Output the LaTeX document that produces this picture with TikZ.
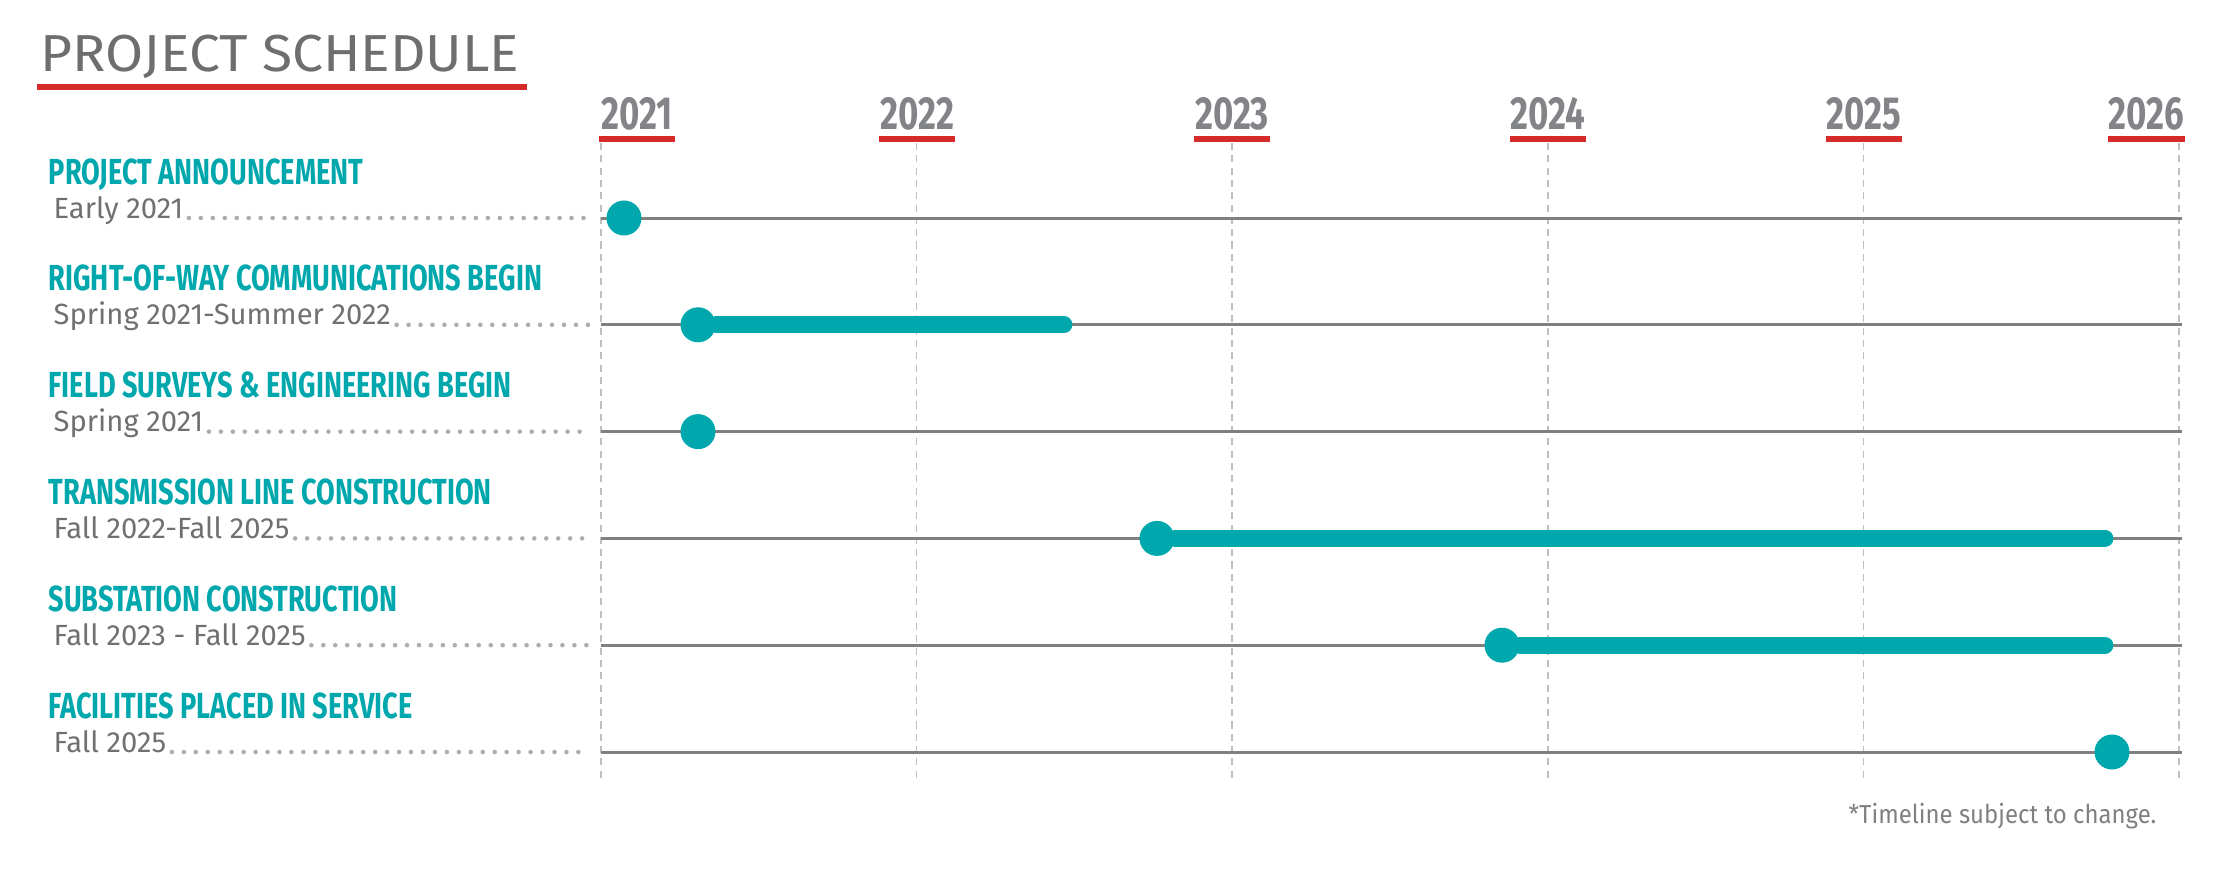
\documentclass[tikz,border=0pt]{standalone}
\usepackage{fontspec}
\setmainfont{Fira Sans}
\newfontfamily\headfont[FakeStretch=1.06]{Fira Sans}
\newfontfamily\condfont[FakeStretch=0.75]{Fira Sans}
\newfontfamily\datefont[FakeStretch=1.0]{Fira Sans}
\newfontfamily\notefont[FakeStretch=0.92]{Fira Sans}
\usepackage{xcolor}
\usetikzlibrary{positioning}
\definecolor{schedteal}{HTML}{00A8AD}
\definecolor{schedred}{HTML}{D62A2A}
\definecolor{titlegray}{HTML}{6E6E6E}
\definecolor{yeargray}{HTML}{828487}
\definecolor{dategray}{HTML}{707070}
\definecolor{linegray}{HTML}{808080}

\begin{document}
\begin{tikzpicture}[x=0.01cm,y=-0.01cm,
   heading/.style={font=\headfont\fontsize{14.8pt}{16pt}\selectfont,text=titlegray,
                   inner sep=0pt,anchor=base west},
   yearlbl/.style={font=\condfont\bfseries\fontsize{13.2pt}{14pt}\selectfont,
                   text=yeargray,inner sep=0pt,minimum width=0.75cm},
   task/.style={font=\condfont\bfseries\fontsize{10.3pt}{12pt}\selectfont,
                text=schedteal,inner sep=0pt,anchor=base west},
   when/.style={font=\datefont\fontsize{8.3pt}{10pt}\selectfont,text=dategray,
                inner sep=0pt,anchor=base west},
   redbar/.style={draw=schedred,line width=1.7pt},
   grid/.style={draw=black!25,line width=0.45pt,dash pattern=on 2pt off 1.5pt},
   row/.style={draw=linegray,line width=0.85pt},
   leader/.style={draw=black!32,line width=1.3pt,line cap=round,
                  dash pattern=on 0pt off 3.4pt},
   dot/.style={circle,fill=schedteal,inner sep=0pt,minimum size=0.35cm},
   span/.style={draw=schedteal,line width=4.8pt,line cap=round}]
  \useasboundingbox (0,0) rectangle (2238,878);

  % title
  \node[heading] (ttl) at (40,71) {PROJECT SCHEDULE};
  \draw[redbar] ([xshift=-0.3mm,yshift=-1.6mm]ttl.base west) -- ([xshift=0.7mm,yshift=-1.6mm]ttl.base east);

  % years
  \node[yearlbl,anchor=base west] (y21) at (599,129) {2021};
  \node[yearlbl,anchor=base] (y22) at (917,129) {2022};
  \node[yearlbl,anchor=base] (y23) at (1232,129) {2023};
  \node[yearlbl,anchor=base] (y24) at (1548,129) {2024};
  \node[yearlbl,anchor=base] (y25) at (1864,129) {2025};
  \node[yearlbl,anchor=base east] (y26) at (2185,129) {2026};
  \draw[redbar] ([yshift=-1mm]y21.base west) -- ([yshift=-1mm]y21.base east);
  \draw[redbar] ([yshift=-1mm]y22.base west) -- ([yshift=-1mm]y22.base east);
  \draw[redbar] ([yshift=-1mm]y23.base west) -- ([yshift=-1mm]y23.base east);
  \draw[redbar] ([yshift=-1mm]y24.base west) -- ([yshift=-1mm]y24.base east);
  \draw[redbar] ([yshift=-1mm]y25.base west) -- ([yshift=-1mm]y25.base east);
  \draw[redbar] ([yshift=-1mm]y26.base west) -- ([yshift=-1mm]y26.base east);

  \draw[grid] (601,143) -- (601,782);
  \draw[grid] (916.6,143) -- (916.6,782);
  \draw[grid] (1232.2,143) -- (1232.2,782);
  \draw[grid] (1547.8,143) -- (1547.8,782);
  \draw[grid] (1863.4,143) -- (1863.4,782);
  \draw[grid] (2179,143) -- (2179,782);

  % rows
  \coordinate (r1) at (601,218);
  \coordinate (r2) at (601,324.8);
  \coordinate (r3) at (601,431.6);
  \coordinate (r4) at (601,538.4);
  \coordinate (r5) at (601,645.2);
  \coordinate (r6) at (601,752);
  \draw[row] (r1) -- ++(1581,0);
  \draw[row] (r2) -- ++(1581,0);
  \draw[row] (r3) -- ++(1581,0);
  \draw[row] (r4) -- ++(1581,0);
  \draw[row] (r5) -- ++(1581,0);
  \draw[row] (r6) -- ++(1581,0);

  \node[task] (t1) at (48,184) {PROJECT ANNOUNCEMENT};
  \node[when] (d1) at (53,218) {Early 2021};
  \node[task] (t2) at (48,290.8) {RIGHT-OF-WAY COMMUNICATIONS BEGIN};
  \node[when] (d2) at (53,324.8) {Spring 2021-Summer 2022};
  \node[task] (t3) at (48,397.6) {FIELD SURVEYS \& ENGINEERING BEGIN};
  \node[when] (d3) at (53,431.6) {Spring 2021};
  \node[task] (t4) at (48,504.4) {TRANSMISSION LINE CONSTRUCTION};
  \node[when] (d4) at (53,538.4) {Fall 2022-Fall 2025};
  \node[task] (t5) at (48,611.2) {SUBSTATION CONSTRUCTION};
  \node[when] (d5) at (53,645.2) {Fall 2023 - Fall 2025};
  \node[task] (t6) at (48,718) {FACILITIES PLACED IN SERVICE};
  \node[when] (d6) at (53,752) {Fall 2025};

  \draw[leader] ([xshift=0.5mm]d1.base east) -- ([xshift=-1.2mm]r1);
  \draw[leader] ([xshift=0.5mm]d2.base east) -- ([xshift=-1.2mm]r2);
  \draw[leader] ([xshift=0.5mm]d3.base east) -- ([xshift=-1.2mm]r3);
  \draw[leader] ([xshift=0.5mm]d4.base east) -- ([xshift=-1.2mm]r4);
  \draw[leader] ([xshift=0.5mm]d5.base east) -- ([xshift=-1.2mm]r5);
  \draw[leader] ([xshift=0.5mm]d6.base east) -- ([xshift=-1.2mm]r6);

  % milestones and spans
  \node[dot] (p1) at (624,218) {};
  \node[dot] (p2) at (698,324.8) {};
  \coordinate (e2) at (1064,324.8);
  \draw[span] (p2) -- (e2);
  \node[dot] (p3) at (698,431.6) {};
  \node[dot] (p4) at (1157,538.4) {};
  \coordinate (e4) at (2105,538.4);
  \draw[span] (p4) -- (e4);
  \node[dot] (p5) at (1502,645.2) {};
  \coordinate (e5) at (2105,645.2);
  \draw[span] (p5) -- (e5);
  \node[dot] (p6) at (2112,752) {};

  \node[font=\notefont\fontsize{7.4pt}{9pt}\selectfont,text=linegray,inner sep=0pt,
        anchor=base east] (note) at (2157,823) {*Timeline subject to change.};
\end{tikzpicture}
\end{document}
